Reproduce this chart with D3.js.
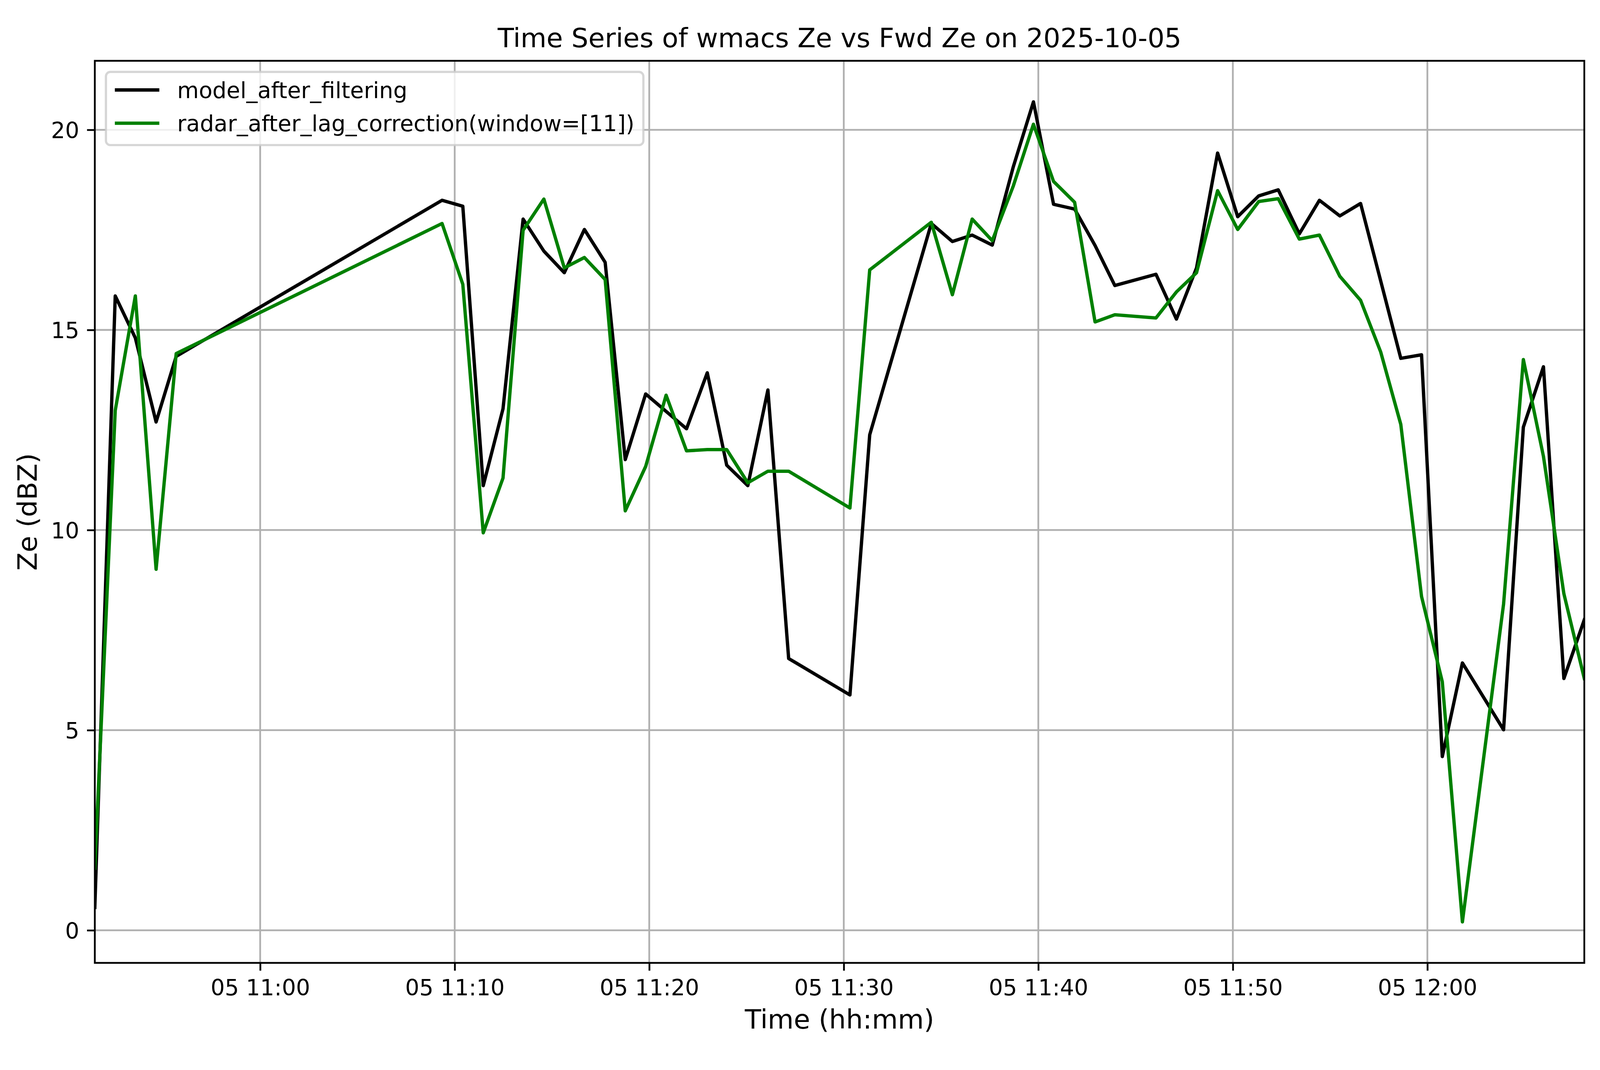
<!DOCTYPE html>
<html>
<head>
<meta charset="utf-8">
<script src="https://cdn.jsdelivr.net/npm/d3@7"></script>
<style>
  html, body { margin: 0; padding: 0; background: #ffffff; overflow: hidden; width: 100%; height: 100%; }
  svg { display: block; }
  text { font-family: "DejaVu Sans", sans-serif; }
</style>
</head>
<body>
<script>
// data
var dayPrefix = "2025-10-05 ";
var timeLabels = [
  "10:51:30", "10:52:33", "10:53:35", "10:54:39", "10:55:41",
  "11:09:21", "11:10:25", "11:11:28", "11:12:29", "11:13:31", "11:14:35", "11:15:38",
  "11:16:40", "11:17:44", "11:18:46", "11:19:49", "11:20:52", "11:21:55", "11:22:59",
  "11:23:59", "11:25:04", "11:26:06", "11:27:10",
  "11:30:19", "11:31:20", "11:34:30", "11:35:35", "11:36:36", "11:37:38", "11:38:43",
  "11:39:45", "11:40:47", "11:41:52", "11:42:55", "11:43:56",
  "11:46:03", "11:47:06", "11:48:08", "11:49:13", "11:50:15", "11:51:20", "11:52:20",
  "11:53:25", "11:54:27", "11:55:30", "11:56:34", "11:57:36", "11:58:38", "11:59:42",
  "12:00:46", "12:01:48", "12:02:51", "12:03:55", "12:04:56", "12:05:58", "12:07:01", "12:08:04"
];
var modelZe = [
  0.57, 15.85, 14.80, 12.70, 14.34,
  18.24, 18.09, 11.11, 13.03, 17.77, 16.97, 16.43,
  17.51, 16.69, 11.76, 13.40, null, 12.53, 13.93,
  11.62, 11.11, 13.50, 6.79,
  5.88, 12.38, 17.66, 17.21, 17.37, 17.12, 19.08,
  20.70, 18.14, 18.02, 17.11, 16.11,
  16.39, 15.27, 16.55, 19.42, 17.83, 18.35, 18.50,
  17.40, 18.24, 17.85, 18.16, null, 14.29, 14.38,
  4.34, 6.68, null, 5.01, 12.57, 14.08, 6.29, 7.76
];
var radarZe = [
  1.55, 12.99, 15.85, 9.02, 14.41,
  17.66, 16.14, 9.93, 11.30, 17.49, 18.27, 16.55,
  16.81, 16.26, 10.48, 11.59, 13.37, 11.98, 12.01,
  12.01, 11.18, 11.47, 11.47,
  10.55, 16.50, 17.69, 15.88, 17.77, 17.23, 18.60,
  20.14, 18.71, 18.19, 15.20, 15.38,
  15.30, 15.95, 16.43, 18.48, 17.51, 18.21, 18.28,
  17.27, 17.37, 16.34, 15.74, 14.45, 12.64, 8.34,
  6.21, 0.21, null, 8.15, 14.26, 11.84, 8.41, 6.29
];
var yTicks = [0, 5, 10, 15, 20];
var seriesNames = ["model_after_filtering", "radar_after_lag_correction(window=[11])"];
var seriesColors = ["black", "green"];

// size of the window; the layout below is given for 4995x2740 and scaled to it
var W = window.innerWidth || document.documentElement.clientWidth || 4995;
var H = window.innerHeight || document.documentElement.clientHeight || 2740;
var sx = W / 4995, sy = H / 2740, s = Math.min(sx, sy);

var plotL = 296 * sx, plotR = 4946 * sx, plotT = 155.7 * sy, plotB = 2465.7 * sy;
var pt = 500 / 72 * s;             // pixels per point
var tickFont = 10 * pt, labelFont = 12 * pt;

var parseTime = d3.timeParse("%Y-%m-%d %H:%M:%S");
var times = timeLabels.map(function (t) { return parseTime(dayPrefix + t); });

var x = d3.scaleTime()
  .domain(d3.extent(times))
  .range([plotL, plotR]);

var allVals = modelZe.concat(radarZe).filter(function (v) { return v != null; });
var yMin = d3.min(allVals), yMax = d3.max(allVals);
var yPad = (yMax - yMin) * 0.05;
var y = d3.scaleLinear()
  .domain([yMin - yPad, yMax + yPad])
  .range([plotB, plotT]);

var svg = d3.select("body").append("svg")
  .attr("width", W)
  .attr("height", H);

svg.append("rect").attr("width", W).attr("height", H).style("fill", "white");

svg.append("clipPath").attr("id", "plotclip")
  .append("rect")
  .attr("x", plotL).attr("y", plotT)
  .attr("width", plotR - plotL).attr("height", plotB - plotT);

var xTickVals = x.ticks(d3.timeMinute.every(10));

// grid
var grid = svg.append("g");
grid.selectAll(".vgrid").data(xTickVals).enter().append("line")
  .attr("x1", function (d) { return x(d); })
  .attr("x2", function (d) { return x(d); })
  .attr("y1", plotT).attr("y2", plotB)
  .style("stroke", "#b0b0b0").style("stroke-width", 0.8 * pt);
grid.selectAll(".hgrid").data(yTicks).enter().append("line")
  .attr("x1", plotL).attr("x2", plotR)
  .attr("y1", function (d) { return y(d); })
  .attr("y2", function (d) { return y(d); })
  .style("stroke", "#b0b0b0").style("stroke-width", 0.8 * pt);

// lines
var series = [modelZe, radarZe];
var line = d3.line()
  .x(function (d) { return x(d.t); })
  .y(function (d) { return y(d.v); });

var lines = svg.append("g").attr("clip-path", "url(#plotclip)");
series.forEach(function (vals, i) {
  var pts = [];
  for (var k = 0; k < vals.length; k++) {
    if (vals[k] != null) pts.push({ t: times[k], v: vals[k] });
  }
  lines.append("path")
    .attr("d", line(pts))
    .style("fill", "none")
    .style("stroke", seriesColors[i])
    .style("stroke-width", 1.5 * pt)
    .style("stroke-linejoin", "round")
    .style("stroke-linecap", "square");
});

// axes
var xAxis = d3.axisBottom(x)
  .tickValues(xTickVals)
  .tickSize(3.5 * pt)
  .tickPadding(3.5 * pt)
  .tickFormat(d3.timeFormat("%d %H:%M"));
var gx = svg.append("g").attr("transform", "translate(0," + plotB + ")").call(xAxis);

var yAxis = d3.axisLeft(y)
  .tickValues(yTicks)
  .tickSize(3.5 * pt)
  .tickPadding(3.5 * pt)
  .tickFormat(d3.format("d"));
var gy = svg.append("g").attr("transform", "translate(" + plotL + ",0)").call(yAxis);

[gx, gy].forEach(function (g) {
  g.select(".domain").remove();
  g.attr("font-family", null).attr("font-size", null);
  g.selectAll(".tick line").style("stroke", "black").style("stroke-width", 0.8 * pt);
  g.selectAll(".tick text")
    .style("font-size", tickFont + "px")
    .style("fill", "black");
});
gx.selectAll(".tick text").attr("dy", "0.76em");
gy.selectAll(".tick text").attr("dy", "0.365em");

// spines
svg.append("rect")
  .attr("x", plotL).attr("y", plotT)
  .attr("width", plotR - plotL).attr("height", plotB - plotT)
  .style("fill", "none")
  .style("stroke", "black")
  .style("stroke-width", 0.8 * pt);

// legend
var legend = svg.append("g");
var rowH = 0.995 * tickFont;
var legX = plotL + 0.5 * tickFont, legY = plotT + 0.5 * tickFont;
var rowY = [legY + 0.4 * tickFont + 0.5 * rowH, 0];
rowY[1] = rowY[0] + rowH + 0.5 * tickFont;
var legBox = legend.append("rect")
  .attr("x", legX).attr("y", legY)
  .attr("rx", 0.2 * tickFont).attr("ry", 0.2 * tickFont)
  .style("fill", "rgba(255,255,255,0.8)")
  .style("stroke", "rgba(204,204,204,0.8)")
  .style("stroke-width", 1.0 * pt);

var handleX0 = legX + 0.4 * tickFont;
var handleX1 = handleX0 + 2.0 * tickFont;
var textX = handleX1 + 0.8 * tickFont;
var maxW = 0;
seriesNames.forEach(function (name, i) {
  legend.append("line")
    .attr("x1", handleX0).attr("x2", handleX1)
    .attr("y1", rowY[i] - 0.086 * tickFont).attr("y2", rowY[i] - 0.086 * tickFont)
    .style("stroke", seriesColors[i])
    .style("stroke-width", 1.5 * pt);
  var t = legend.append("text")
    .attr("x", textX).attr("y", rowY[i] + 0.275 * tickFont)
    .style("font-size", tickFont + "px")
    .style("fill", "black")
    .text(name);
  maxW = Math.max(maxW, t.node().getComputedTextLength());
});
legBox
  .attr("width", textX + maxW + 0.4 * tickFont - legX)
  .attr("height", 0.8 * tickFont + 2 * rowH + 0.5 * tickFont);

// title and axis labels
var midX = (plotL + plotR) / 2;
svg.append("text")
  .attr("x", midX).attr("y", plotT - 42.7 * s)
  .attr("text-anchor", "middle")
  .style("font-size", labelFont + "px")
  .text("Time Series of wmacs Ze vs Fwd Ze on 2025-10-05");

svg.append("text")
  .attr("x", midX).attr("y", plotB + 205.3 * s)
  .attr("text-anchor", "middle")
  .style("font-size", labelFont + "px")
  .text("Time (hh:mm)");

svg.append("text")
  .attr("transform", "translate(" + (plotL - 181 * s) + "," + ((plotT + plotB) / 2) + ") rotate(-90)")
  .attr("text-anchor", "middle")
  .style("font-size", labelFont + "px")
  .text("Ze (dBZ)");
</script>
</body>
</html>
